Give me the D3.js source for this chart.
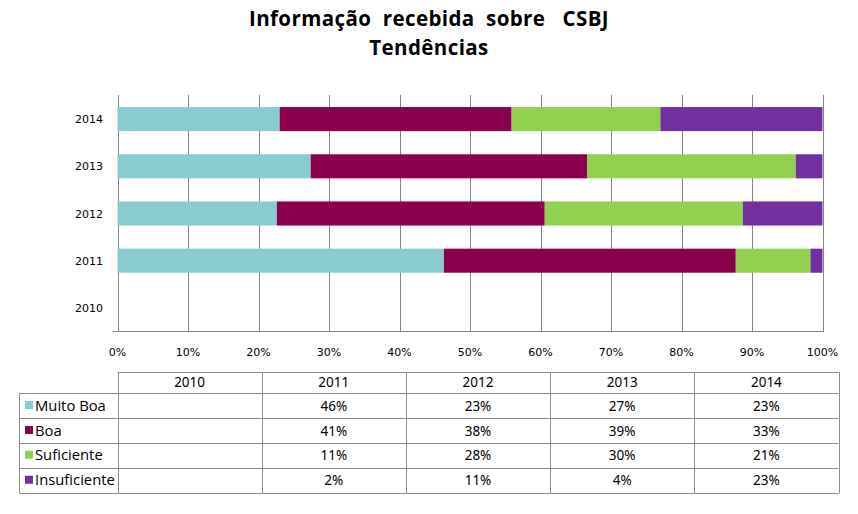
<!DOCTYPE html>
<html><head><meta charset="utf-8">
<script src="https://cdn.jsdelivr.net/npm/d3@7"></script>
<style>body{margin:0;background:#fff}svg{display:block}text{white-space:pre}</style>
</head><body>
<svg id="c" width="858" height="514"></svg>
<script>
const years = ["2010","2011","2012","2013","2014"];
const seriesNames = ["Muito Boa","Boa","Suficiente","Insuficiente"];
const colors = ["#8ACBD1","#8B004D","#92D050","#7030A0"];
// values per series, per year (fraction of total); 2010 has no data
const muitoBoa    = [null, 0.463, 0.226, 0.274, 0.230];
const boa         = [null, 0.414, 0.380, 0.392, 0.329];
const suficiente  = [null, 0.106, 0.281, 0.296, 0.211];
const insuficiente= [null, 0.017, 0.113, 0.038, 0.230];
const xTicks = [0,0.1,0.2,0.3,0.4,0.5,0.6,0.7,0.8,0.9,1];
const titleLines = ["Informação  recebida  sobre   CSBJ","Tendências"];

const seriesVals = [muitoBoa, boa, suficiente, insuficiente];
const svg = d3.select("#c");

// title
svg.append("g").selectAll("text").data(titleLines).join("text")
  .attr("x", 429).attr("y",(d,i)=>26+i*28.5)
  .attr("text-anchor","middle")
  .attr("font-family","'Open Sans', sans-serif").attr("font-weight","bold")
  .attr("font-size",20.5).attr("letter-spacing",0.4).attr("fill","#000").text(d=>d);

const x = d3.scaleLinear().domain([0,1]).range([117.5,822.5]);
const y = d3.scaleBand().domain(years.slice().reverse()).range([95.5,331.5]).paddingInner(0.49).paddingOuter(0.245);

// gridlines
svg.append("g").selectAll("line").data(xTicks).join("line")
  .attr("x1",d=>Math.round(x(d))+0.5).attr("x2",d=>Math.round(x(d))+0.5)
  .attr("y1",95).attr("y2",332)
  .attr("stroke","#868686").attr("stroke-width",1);
svg.append("line").attr("x1",113).attr("x2",823).attr("y1",331.5).attr("y2",331.5).attr("stroke","#868686");

// stacked bars
const table = years.map((yr,i)=>{ const o={year:yr}; seriesNames.forEach((s,j)=>o[s]=seriesVals[j][i]||0); return o;});
const stack = d3.stack().keys(seriesNames)(table);
svg.append("g").selectAll("g").data(stack).join("g").attr("fill",(d,i)=>colors[i])
  .selectAll("rect").data(d=>d.filter(p=>p[1]>p[0])).join("rect")
  .attr("x",d=>x(d[0])).attr("width",d=>x(d[1])-x(d[0]))
  .attr("y",d=>y(d.data.year)).attr("height",y.bandwidth());

// y labels
svg.append("g").selectAll("text").data(years).join("text")
  .attr("x",103).attr("y",d=>y(d)+y.bandwidth()/2+4)
  .attr("text-anchor","end").attr("font-family","'DejaVu Sans', sans-serif").attr("font-size",11)
  .attr("fill","#000").text(d=>d);
// x labels
svg.append("g").selectAll("text").data(xTicks).join("text")
  .attr("x",d=>x(d)).attr("y",356)
  .attr("text-anchor","middle").attr("font-family","'DejaVu Sans', sans-serif").attr("font-size",11)
  .attr("fill","#000").text(d=>d3.format(".0%")(d));

// data table
const colX = d3.scaleLinear().domain([0,5]).range([117.5,838.5]);
const rowY = [372, 393, 418, 443, 467.5, 493];
const tg = svg.append("g");
const lc = "#8c8c8c";
const tf = "'Noto Sans', sans-serif";
tg.append("line").attr("x1",colX(0)).attr("x2",colX(5)).attr("y1",rowY[0]+0.5).attr("y2",rowY[0]+0.5).attr("stroke",lc);
rowY.slice(1).forEach(yy=>tg.append("line").attr("x1",19.5).attr("x2",colX(5)).attr("y1",Math.round(yy)+0.5).attr("y2",Math.round(yy)+0.5).attr("stroke",lc));
d3.range(6).forEach(i=>tg.append("line").attr("x1",Math.round(colX(i))+0.5).attr("x2",Math.round(colX(i))+0.5).attr("y1",rowY[0]).attr("y2",rowY[5]+0.5).attr("stroke",lc));
tg.append("line").attr("x1",19.5).attr("x2",19.5).attr("y1",rowY[1]).attr("y2",rowY[5]+0.5).attr("stroke",lc);
// header
tg.selectAll("text.h").data(years).join("text").attr("class","h")
  .attr("x",(d,i)=>(colX(i)+colX(i+1))/2).attr("y",387)
  .attr("text-anchor","middle").attr("font-family",tf).attr("font-size",13.5).text(d=>d);
// rows
seriesNames.forEach((s,j)=>{
  const cy = (rowY[j+1]+rowY[j+2])/2;
  tg.append("rect").attr("x",25).attr("y",cy-4.5).attr("width",8).attr("height",8).attr("fill",colors[j]);
  tg.append("text").attr("x",35).attr("y",cy+5).attr("font-family","'Open Sans', sans-serif").attr("font-size",14.8).attr("fill","#000").text(s);
  years.forEach((yr,i)=>{
    const v = seriesVals[j][i];
    if (v==null) return;
    tg.append("text").attr("x",(colX(i)+colX(i+1))/2).attr("y",cy+5)
      .attr("text-anchor","middle").attr("font-family",tf).attr("font-size",13.5)
      .text(d3.format(".0%")(v));
  });
});
</script>
</body></html>
